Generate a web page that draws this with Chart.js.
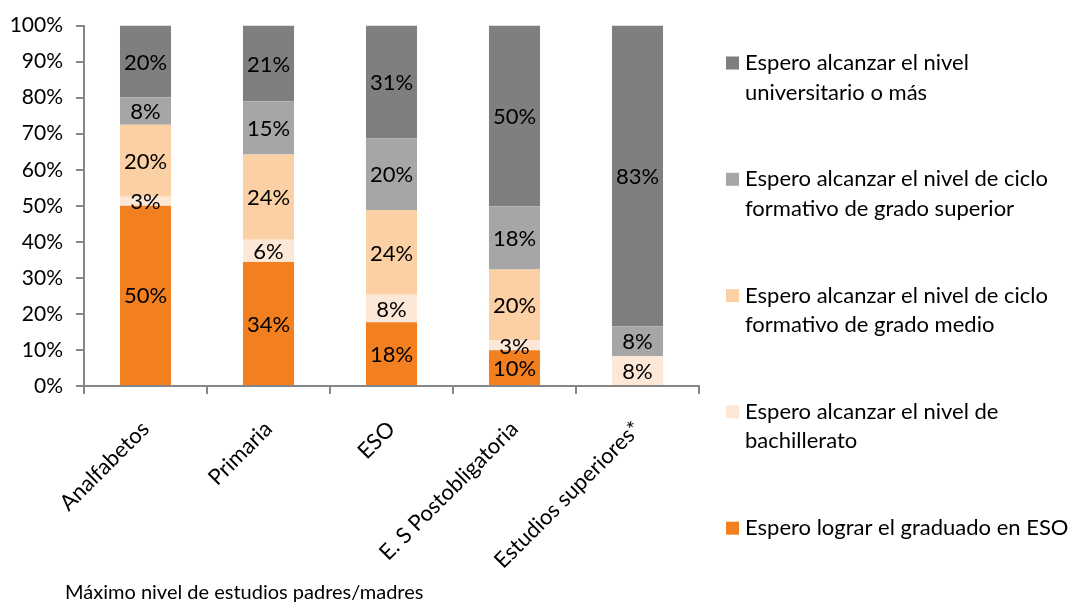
<!DOCTYPE html>
<html>
<head>
<meta charset="utf-8">
<script src="https://cdn.jsdelivr.net/npm/chart.js@4/dist/chart.umd.min.js"></script>
<style>
  html, body { margin: 0; padding: 0; background: #fff; }
  #wrap { width: 1068px; height: 603px; position: relative; }
</style>
</head>
<body>
<div id="wrap"><canvas id="c" width="1068" height="603"></canvas></div>
<script>
const categories = ['Analfabetos', 'Primaria', 'ESO', 'E. S Postobligatoria', 'Estudios superiores*'];
const graduadoESO = [50.0, 34.4, 17.7, 9.9, 0];
const bachillerato = [2.5, 6.2, 7.6, 2.7, 8.3];
const gradoMedio = [20.0, 23.6, 23.5, 19.7, 0];
const gradoSuperior = [7.6, 14.8, 19.9, 17.6, 8.3];
const universitario = [19.9, 21.0, 31.3, 50.1, 83.4];
const seriesNames = [
  'Espero lograr el graduado en ESO',
  'Espero alcanzar el nivel de bachillerato',
  'Espero alcanzar el nivel de ciclo formativo de grado medio',
  'Espero alcanzar el nivel de ciclo formativo de grado superior',
  'Espero alcanzar el nivel universitario o más'
];
const legendLines = [
  ['Espero lograr el graduado en ESO'],
  ['Espero alcanzar el nivel de', 'bachillerato'],
  ['Espero alcanzar el nivel de ciclo', 'formativo de grado medio'],
  ['Espero alcanzar el nivel de ciclo', 'formativo de grado superior'],
  ['Espero alcanzar el nivel', 'universitario o más']
];
const colors = ['#F28021', '#FDE8D8', '#FBD0A5', '#A6A6A6', '#7F7F7F'];
const axisTitle = 'Máximo nivel de estudios padres/madres';

const FONT = 'Lato, "Open Sans", sans-serif';

const valueLabels = {
  id: 'valueLabels',
  afterDatasetsDraw(chart) {
    const ctx = chart.ctx;
    ctx.save();
    ctx.font = '22px ' + FONT;
    ctx.fillStyle = '#000';
    ctx.textAlign = 'center';
    ctx.textBaseline = 'middle';
    chart.data.datasets.forEach((ds, di) => {
      const meta = chart.getDatasetMeta(di);
      meta.data.forEach((bar, i) => {
        const v = ds.data[i];
        if (!v) return;
        ctx.fillText(Math.round(v) + '%', bar.x, (bar.y + bar.base) / 2 + 1);
      });
    });
    ctx.restore();
  }
};

const sideLegend = {
  id: 'sideLegend',
  afterDraw(chart) {
    const ctx = chart.ctx;
    ctx.save();
    ctx.font = '22px ' + FONT;
    ctx.textAlign = 'left';
    ctx.textBaseline = 'middle';
    const n = chart.data.datasets.length;
    for (let k = 0; k < n; k++) {
      const di = n - 1 - k;
      const y0 = 63 + k * 116.3;
      ctx.fillStyle = chart.data.datasets[di].backgroundColor;
      ctx.fillRect(726, y0 - 6.5, 13, 13);
      ctx.fillStyle = '#000';
      legendLines[di].forEach((line, li) => {
        ctx.fillText(line, 745, y0 + li * 29.5);
      });
    }
    ctx.font = '20px ' + FONT;
    ctx.fillText(axisTitle, 65, 593);
    ctx.restore();
  }
};

const seriesData = [graduadoESO, bachillerato, gradoMedio, gradoSuperior, universitario];

new Chart(document.getElementById('c'), {
  type: 'bar',
  data: {
    labels: categories,
    datasets: seriesData.map((d, i) => ({
      label: seriesNames[i],
      data: d,
      backgroundColor: colors[i],
      borderWidth: 0,
      categoryPercentage: 1,
      barPercentage: 0.415
    }))
  },
  options: {
    responsive: false,
    animation: false,
    layout: { padding: { left: 0, top: 25, right: 369, bottom: 0 } },
    plugins: {
      legend: { display: false },
      tooltip: { enabled: false },
      title: { display: false }
    },
    scales: {
      x: {
        stacked: true,
        grid: { drawOnChartArea: false, drawTicks: true, tickLength: 8, color: '#868686', lineWidth: 2 },
        border: { color: '#868686', width: 2 },
        ticks: {
          color: '#000',
          font: { family: FONT, size: 22 },
          minRotation: 45,
          maxRotation: 45,
          padding: 22,
          autoSkip: false
        },
        afterFit(scale) { scale.height = 217; }
      },
      y: {
        stacked: true,
        min: 0,
        max: 100,
        grid: { drawOnChartArea: false, drawTicks: true, tickLength: 8, color: '#868686', lineWidth: 2 },
        border: { color: '#868686', width: 2 },
        ticks: {
          stepSize: 10,
          color: '#000',
          padding: 13,
          font: { family: FONT, size: 21 },
          callback: v => v + '%'
        },
        afterFit(scale) { scale.width = 84; }
      }
    }
  },
  plugins: [valueLabels, sideLegend]
});
</script>
</body>
</html>
